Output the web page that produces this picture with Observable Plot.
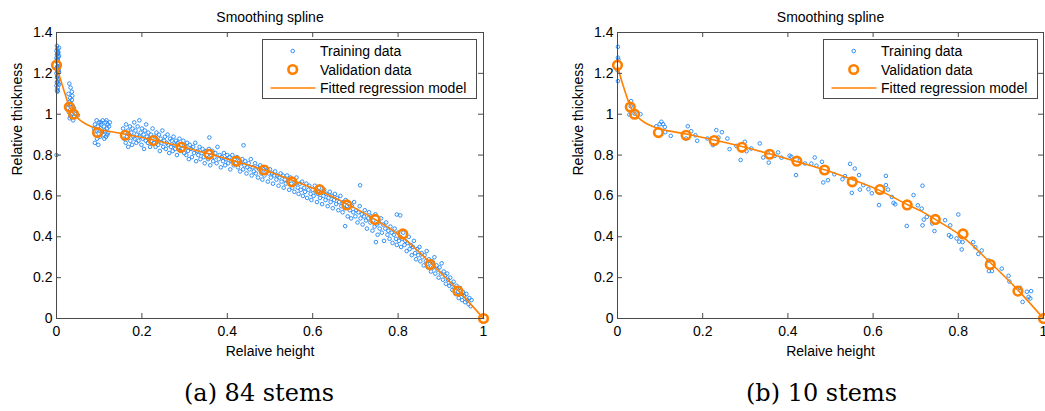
<!DOCTYPE html>
<html><head><meta charset="utf-8">
<script src="https://cdn.jsdelivr.net/npm/d3@7"></script>
<script src="https://cdn.jsdelivr.net/npm/@observablehq/plot@0.6"></script>
<style>
html,body{margin:0;padding:0;background:#fff;}
#wrap{position:relative;width:1045px;height:411px;overflow:hidden;font-family:"Liberation Sans",Arial,Helvetica,sans-serif;}
#wrap svg{position:absolute;}
</style></head>
<body><div id="wrap"></div>
<script>
// ---------- data ----------
const xTicks = [0, 0.2, 0.4, 0.6, 0.8, 1];
const yTicks = [0, 0.2, 0.4, 0.6, 0.8, 1, 1.2, 1.4];
const titleText = "Smoothing spline";
const xLabel = "Relaive height";
const yLabel = "Relative thickness";
const legendLabels = ["Training data", "Validation data", "Fitted regression model"];
const captions = ["(a) 84 stems", "(b) 10 stems"];

// validation data (same stem in both panels)
const validation = [[0.0,1.24],[0.030,1.035],[0.040,1.0],[0.096,0.91],[0.161,0.897],[0.227,0.871],[0.292,0.838],[0.357,0.804],[0.421,0.770],[0.486,0.727],[0.551,0.669],[0.616,0.631],[0.680,0.556],[0.746,0.485],[0.811,0.414],[0.875,0.264],[0.940,0.134],[1.0,0.0]];

// fitted smoothing spline, panel (a)
const fitA = [[0.0,1.235],[0.016,1.126],[0.030,1.039],[0.040,1.003],[0.055,0.971],[0.071,0.950],[0.096,0.928],[0.126,0.915],[0.161,0.902],[0.227,0.874],[0.292,0.842],[0.357,0.806],[0.421,0.768],[0.486,0.727],[0.551,0.678],[0.616,0.625],[0.680,0.561],[0.746,0.485],[0.811,0.396],[0.875,0.274],[0.940,0.139],[1.0,0.0]];
// fitted smoothing spline, panel (b)
const fitB = [[0.0,1.232],[0.016,1.122],[0.030,1.040],[0.040,1.004],[0.055,0.972],[0.071,0.951],[0.096,0.930],[0.126,0.916],[0.161,0.903],[0.227,0.874],[0.292,0.842],[0.357,0.806],[0.421,0.768],[0.486,0.728],[0.551,0.680],[0.616,0.626],[0.680,0.558],[0.716,0.522],[0.746,0.485],[0.811,0.398],[0.875,0.274],[0.940,0.139],[1.0,0.0]];

// training data, panel (a): 84 stems
const trainA = [
[0.001,1.335],[0.002,1.32],[0.000,1.31],[0.003,1.30],[0.001,1.29],[0.004,1.28],[0.002,1.27],[0.000,1.26],[0.003,1.25],[0.005,1.245],[0.001,1.23],[0.004,1.22],[0.002,1.21],[0.000,1.20],[0.003,1.19],[0.001,1.18],[0.005,1.17],[0.002,1.16],[0.004,1.15],[0.000,1.14],[0.003,1.13],[0.001,1.12],[0.002,1.11],[0.004,1.30],[0.000,1.275],[0.005,1.215],[0.002,1.185],[0.001,1.155],[0.003,1.265],[0.000,0.80],
[0.006,1.325],[0.004,1.305],[0.006,1.285],[0.003,1.235],[0.006,1.205],[0.004,1.175],[0.006,1.145],[0.003,1.115],[0.000,1.225],[0.002,1.295],
[0.030,1.15],[0.033,1.13],[0.028,1.10],[0.032,1.08],[0.036,1.07],[0.030,1.06],[0.034,1.05],[0.038,1.04],[0.026,1.03],[0.040,1.02],[0.029,1.01],[0.035,1.00],[0.042,0.99],[0.031,0.98],[0.045,1.00],[0.037,1.09],[0.027,1.05],[0.041,1.03],[0.033,0.99],[0.039,0.97],[0.036,1.11],[0.050,0.995],
[0.088,0.93],[0.090,0.95],[0.092,0.90],[0.094,0.97],[0.095,0.88],[0.097,0.94],[0.099,0.92],[0.100,0.96],[0.102,0.89],[0.103,0.93],[0.105,0.95],[0.106,0.91],[0.108,0.97],[0.110,0.90],[0.111,0.94],[0.113,0.92],[0.115,0.96],[0.116,0.89],[0.118,0.93],[0.120,0.95],[0.121,0.91],[0.123,0.94],[0.125,0.96],[0.090,0.86],[0.098,0.85],[0.112,0.88],[0.119,0.90],[0.104,0.96],[0.094,0.92],[0.117,0.97],
[0.156,0.93],[0.158,0.88],[0.160,0.91],[0.162,0.86],[0.163,0.95],[0.165,0.89],[0.167,0.92],[0.168,0.84],[0.170,0.90],[0.172,0.94],[0.173,0.87],[0.175,0.91],[0.177,0.85],[0.178,0.93],[0.180,0.89],[0.182,0.96],[0.183,0.88],[0.185,0.92],[0.187,0.86],[0.188,0.90],[0.190,0.94],[0.192,0.87],[0.194,0.97],[0.195,0.89],[0.197,0.91],[0.199,0.85],[0.200,0.93],[0.202,0.88],[0.204,0.90],[0.205,0.83],[0.207,0.92],[0.209,0.87],[0.210,0.95],[0.212,0.89],[0.214,0.86],[0.215,0.91],[0.217,0.88],[0.219,0.84],[0.221,0.90],[0.223,0.87],[0.225,0.93],[0.228,0.86],
[0.230,0.89],[0.232,0.84],[0.234,0.91],[0.236,0.87],[0.238,0.85],[0.240,0.90],[0.242,0.82],[0.244,0.88],[0.246,0.86],[0.248,0.92],[0.250,0.84],[0.252,0.87],[0.254,0.89],[0.256,0.83],[0.258,0.86],[0.260,0.90],[0.262,0.85],[0.264,0.81],[0.266,0.88],[0.268,0.84],[0.270,0.87],[0.272,0.82],[0.274,0.89],[0.276,0.85],[0.278,0.83],[0.280,0.87],[0.282,0.80],[0.284,0.86],[0.286,0.84],[0.288,0.88],[0.290,0.82],[0.292,0.85],[0.295,0.83],[0.297,0.87],[0.299,0.81],
[0.302,0.84],[0.304,0.80],[0.306,0.86],[0.308,0.82],[0.310,0.78],[0.312,0.85],[0.315,0.83],[0.317,0.79],[0.320,0.84],[0.322,0.81],[0.325,0.86],[0.327,0.77],[0.330,0.82],[0.332,0.80],[0.335,0.84],[0.337,0.78],[0.340,0.81],[0.342,0.83],[0.345,0.79],[0.347,0.76],[0.350,0.82],[0.352,0.80],[0.355,0.78],[0.357,0.83],[0.360,0.75],[0.362,0.80],[0.365,0.82],[0.367,0.77],[0.370,0.79],[0.372,0.81],[0.375,0.76],[0.377,0.84],[0.380,0.78],[0.382,0.80],[0.385,0.74],[0.387,0.79],[0.390,0.77],[0.392,0.81],[0.395,0.75],[0.397,0.78],[0.400,0.80],[0.402,0.76],[0.405,0.79],[0.407,0.73],[0.410,0.77],[0.412,0.80],[0.415,0.75],[0.417,0.78],[0.420,0.76],[0.358,0.886],[0.438,0.848],
[0.423,0.79],[0.425,0.74],[0.428,0.77],[0.430,0.72],[0.432,0.76],[0.435,0.78],[0.437,0.73],[0.440,0.75],[0.442,0.77],[0.445,0.71],[0.447,0.74],[0.450,0.76],[0.452,0.73],[0.455,0.78],[0.457,0.70],[0.460,0.74],[0.462,0.72],[0.465,0.76],[0.467,0.71],[0.470,0.74],[0.472,0.69],[0.475,0.73],[0.477,0.75],[0.480,0.71],[0.482,0.68],[0.485,0.73],[0.487,0.70],[0.490,0.74],[0.492,0.72],[0.495,0.67],[0.497,0.71],[0.500,0.73],[0.502,0.69],[0.505,0.71],[0.507,0.66],[0.510,0.70],[0.512,0.72],[0.515,0.68],[0.517,0.70],[0.520,0.65],[0.522,0.69],[0.525,0.71],[0.527,0.67],[0.530,0.70],[0.532,0.64],[0.535,0.68],[0.537,0.66],[0.540,0.70],[0.542,0.67],[0.545,0.63],[0.548,0.69],
[0.550,0.66],[0.552,0.64],[0.555,0.68],[0.557,0.62],[0.560,0.66],[0.562,0.69],[0.565,0.64],[0.567,0.61],[0.570,0.66],[0.572,0.63],[0.575,0.67],[0.577,0.60],[0.580,0.64],[0.582,0.62],[0.585,0.66],[0.587,0.59],[0.590,0.63],[0.592,0.65],[0.595,0.61],[0.597,0.58],[0.600,0.63],[0.602,0.60],[0.605,0.65],[0.607,0.62],[0.610,0.57],[0.612,0.61],[0.615,0.64],[0.617,0.59],[0.620,0.62],[0.622,0.56],[0.625,0.60],[0.627,0.63],[0.630,0.58],[0.632,0.61],[0.635,0.55],[0.637,0.59],[0.640,0.62],[0.642,0.57],[0.645,0.60],[0.647,0.54],[0.650,0.58],[0.652,0.61],[0.655,0.56],[0.657,0.59],[0.660,0.53],[0.662,0.57],[0.665,0.60],[0.667,0.55],[0.670,0.52],[0.672,0.57],[0.675,0.54],[0.677,0.58],
[0.680,0.55],[0.682,0.50],[0.685,0.56],[0.687,0.53],[0.690,0.49],[0.692,0.55],[0.695,0.52],[0.697,0.57],[0.700,0.50],[0.702,0.53],[0.705,0.47],[0.707,0.52],[0.710,0.55],[0.712,0.49],[0.715,0.51],[0.717,0.46],[0.720,0.50],[0.722,0.53],[0.725,0.48],[0.727,0.44],[0.730,0.49],[0.732,0.52],[0.735,0.47],[0.737,0.50],[0.740,0.43],[0.742,0.48],[0.745,0.45],[0.747,0.51],[0.750,0.46],[0.752,0.41],[0.755,0.47],[0.757,0.44],[0.760,0.49],[0.762,0.42],[0.765,0.46],[0.767,0.38],[0.770,0.44],[0.772,0.47],[0.775,0.41],[0.777,0.43],[0.780,0.39],[0.782,0.45],[0.785,0.42],[0.787,0.37],[0.790,0.41],[0.792,0.44],[0.795,0.39],[0.797,0.36],[0.800,0.42],[0.802,0.38],[0.805,0.40],[0.807,0.35],[0.711,0.652],[0.676,0.452],[0.797,0.509],[0.805,0.505],[0.748,0.374],
[0.810,0.39],[0.812,0.42],[0.815,0.36],[0.817,0.38],[0.820,0.33],[0.822,0.37],[0.825,0.40],[0.827,0.34],[0.830,0.36],[0.832,0.31],[0.835,0.35],[0.837,0.38],[0.840,0.32],[0.842,0.29],[0.845,0.34],[0.847,0.31],[0.850,0.35],[0.852,0.28],[0.855,0.32],[0.857,0.30],[0.860,0.26],[0.862,0.31],[0.865,0.28],[0.867,0.33],[0.870,0.25],[0.872,0.29],[0.875,0.27],[0.877,0.23],[0.880,0.28],[0.882,0.25],[0.885,0.30],[0.887,0.22],[0.890,0.26],[0.892,0.24],[0.895,0.20],[0.897,0.25],[0.900,0.22],[0.902,0.27],[0.905,0.19],[0.907,0.23],[0.910,0.21],[0.912,0.17],[0.915,0.22],[0.917,0.19],[0.920,0.16],[0.922,0.20],[0.925,0.17],[0.927,0.14],[0.930,0.18],[0.932,0.15],[0.935,0.12],[0.937,0.16],[0.940,0.13],[0.942,0.10],[0.945,0.15],[0.947,0.12],[0.950,0.09],[0.952,0.13],[0.955,0.11],[0.957,0.08],[0.960,0.12],[0.962,0.09],[0.965,0.07],[0.967,0.10],[0.970,0.06],[0.972,0.09]
];

// training data, panel (b): 10 stems
const trainB = [
[0.001,1.33],[0.001,1.277],[0.002,1.267],[0.000,1.215],[0.001,1.162],
[0.032,1.064],[0.031,1.039],[0.028,0.998],[0.040,1.003],[0.054,1.0],
[0.091,0.941],[0.099,0.951],[0.103,0.963],[0.107,0.951],[0.111,0.938],[0.112,0.912],[0.125,0.894],
[0.165,0.941],[0.161,0.881],[0.173,0.917],[0.183,0.897],[0.187,0.870],[0.211,0.881],[0.232,0.922],[0.224,0.849],[0.237,0.886],[0.245,0.912],[0.258,0.881],[0.263,0.829],[0.279,0.845],[0.289,0.776],[0.299,0.865],[0.303,0.819],[0.314,0.832],[0.334,0.857],[0.342,0.788],[0.352,0.813],[0.355,0.763],[0.369,0.796],[0.377,0.813],[0.385,0.787],[0.404,0.797],[0.408,0.792],[0.419,0.702],[0.428,0.775],[0.440,0.759],[0.455,0.758],[0.463,0.788],[0.467,0.748],[0.480,0.767],[0.483,0.666],[0.494,0.677],[0.509,0.706],[0.528,0.682],[0.534,0.697],[0.546,0.757],[0.550,0.615],[0.557,0.734],[0.567,0.702],[0.569,0.631],[0.577,0.653],[0.589,0.633],[0.597,0.613],[0.614,0.555],[0.630,0.698],[0.630,0.653],[0.635,0.631],[0.644,0.595],[0.648,0.566],[0.652,0.559],[0.679,0.453],[0.695,0.604],[0.705,0.554],[0.716,0.650],[0.714,0.538],[0.719,0.484],[0.716,0.456],[0.726,0.497],[0.739,0.465],[0.744,0.428],[0.769,0.481],[0.778,0.408],[0.781,0.456],[0.783,0.400],[0.796,0.392],[0.800,0.509],[0.802,0.376],[0.808,0.338],[0.810,0.374],[0.835,0.374],[0.840,0.349],[0.847,0.316],[0.855,0.333],[0.871,0.284],[0.872,0.232],[0.879,0.232],[0.902,0.244],[0.918,0.209],[0.920,0.181],[0.945,0.150],[0.951,0.081],[0.961,0.131],[0.965,0.106],[0.971,0.134],[0.969,0.098]
];

// ---------- styles ----------
const BLUE = "#1f86f5";
const ORANGE = "#ff8000";
const AXIS = "#4a4a4a";
const FONT = "'Liberation Sans', Arial, Helvetica, sans-serif";

const wrap = document.getElementById("wrap");
const toObj = a => a.map(([x, y]) => ({x, y}));

function panel(train, fit, left, width, marginRight) {
  const mt = 32, mb = 47, ml = 56, H = 365;
  const fw = width - ml - marginRight, fh = H - mt - mb;
  const p = Plot.plot({
    width, height: H,
    marginLeft: ml, marginRight, marginTop: mt, marginBottom: mb,
    style: {fontFamily: FONT, fontSize: "14px", background: "transparent", color: "#000", overflow: "visible"},
    x: {domain: [0, 1]},
    y: {domain: [0, 1.4]},
    marks: [
      Plot.dot(toObj(train), {x: "x", y: "y", r: 1.8, stroke: BLUE, strokeWidth: 0.9, fill: "none"}),
      Plot.line(toObj(fit), {x: "x", y: "y", stroke: ORANGE, strokeWidth: 1.6, curve: "catmull-rom"}),
      Plot.dot(toObj(validation), {x: "x", y: "y", r: 4.3, stroke: ORANGE, strokeWidth: 2.6, fill: "none"}),
      Plot.frame({stroke: AXIS, strokeWidth: 1}),
      Plot.tickX(xTicks, {x: d => d, stroke: AXIS, insetTop: fh - 5}),
      Plot.tickX(xTicks, {x: d => d, stroke: AXIS, insetBottom: fh - 5}),
      Plot.tickY(yTicks, {y: d => d, stroke: AXIS, insetRight: fw - 5}),
      Plot.tickY(yTicks, {y: d => d, stroke: AXIS, insetLeft: fw - 5}),
      Plot.axisX({ticks: xTicks, tickSize: 0, tickPadding: 8, tickFormat: d => String(d), fontSize: 14, label: null}),
      Plot.axisY({ticks: yTicks, tickSize: 0, tickPadding: 4, tickFormat: d => String(d), fontSize: 14, label: null}),
      Plot.text([titleText], {frameAnchor: "top", lineAnchor: "bottom", dy: -11, fontSize: 14}),
      Plot.text([xLabel], {frameAnchor: "bottom", lineAnchor: "bottom", dy: 37, fontSize: 14}),
      Plot.text([yLabel], {frameAnchor: "left", rotate: -90, lineAnchor: "middle", dx: -38.5, fontSize: 14})
    ]
  });
  p.style.left = left + "px";
  p.style.top = "0px";
  wrap.appendChild(p);
}

panel(trainA, fitA, 0, 500, 17);
panel(trainB, fitB, 561, 484, 2);

// ---------- legends ----------
function legend(left) {
  const svg = d3.select(wrap).append("svg")
    .style("left", left + "px").style("top", "38.5px")
    .attr("width", 216).attr("height", 62);
  svg.append("rect").attr("x", 0.5).attr("y", 0.5).attr("width", 214).attr("height", 59)
    .attr("fill", "#fff").attr("stroke", AXIS);
  svg.append("circle").attr("cx", 30.7).attr("cy", 12).attr("r", 1.8)
    .attr("fill", "none").attr("stroke", BLUE).attr("stroke-width", 0.9);
  svg.append("circle").attr("cx", 30.7).attr("cy", 30.5).attr("r", 4.3)
    .attr("fill", "none").attr("stroke", ORANGE).attr("stroke-width", 2.6);
  svg.append("line").attr("x1", 8.5).attr("x2", 53.5).attr("y1", 49).attr("y2", 49)
    .attr("stroke", ORANGE).attr("stroke-width", 1.6);
  const ys = [17, 35.5, 54];
  legendLabels.forEach((t, i) => {
    svg.append("text").attr("x", 58).attr("y", ys[i]).text(t)
      .attr("font-family", FONT).attr("font-size", 14).attr("fill", "#000");
  });
}
legend(262);
legend(822.5);

// ---------- captions ----------
const cap = d3.select(wrap).append("svg").style("left", "0px").style("top", "0px")
  .attr("width", 1045).attr("height", 411).style("pointer-events", "none");
[259, 821.5].forEach((cx, i) => {
  cap.append("text").attr("x", cx).attr("y", 401).attr("text-anchor", "middle")
    .attr("font-family", "'DejaVu Serif', 'Liberation Serif', serif").attr("font-size", 24)
    .attr("fill", "#000").text(captions[i]);
});
</script>
</body></html>
